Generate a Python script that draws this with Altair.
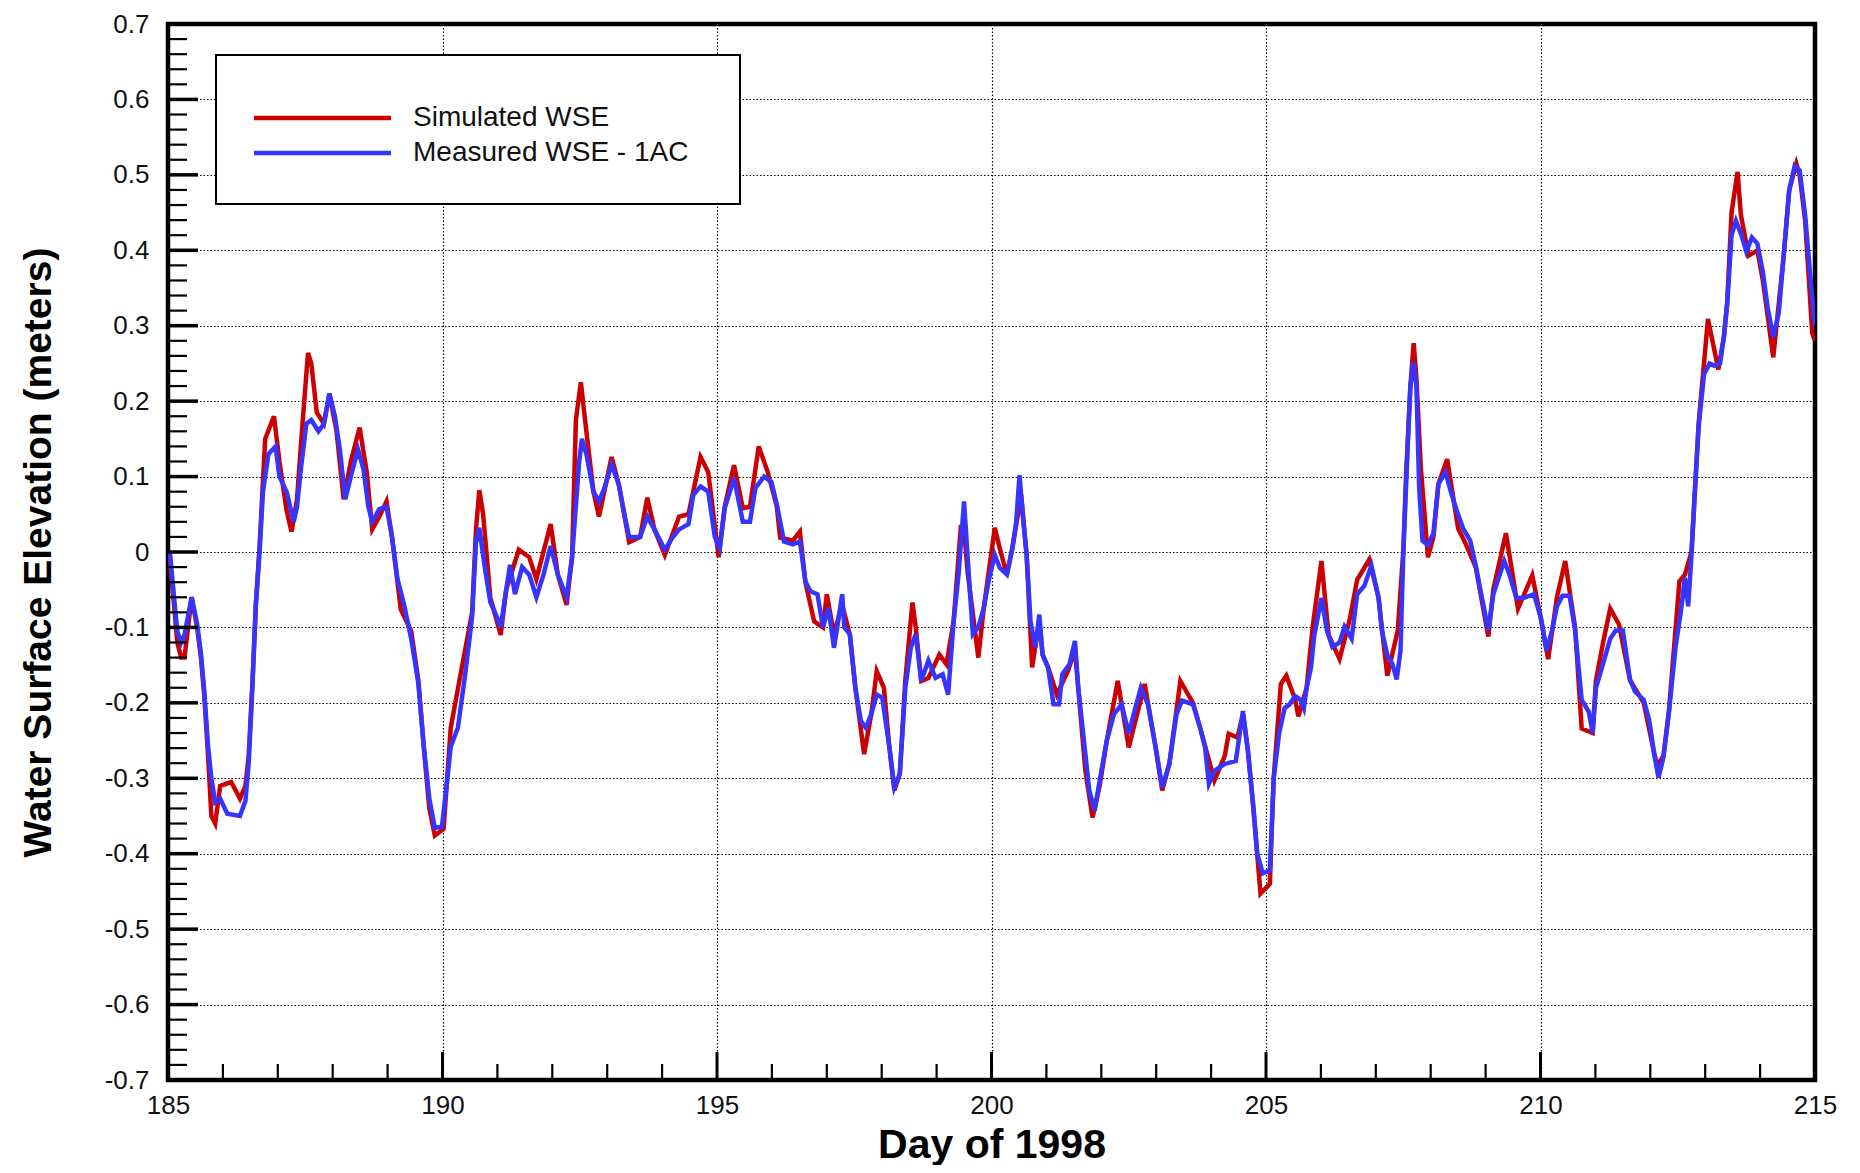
import altair as alt
import pandas as pd

# ---------------- data ----------------
MEAS_DAY = [185.00, 185.04, 185.11, 185.17, 185.24, 185.30, 185.43, 185.53, 185.60, 185.66,
            185.73, 185.79, 185.86, 185.95, 186.08, 186.31, 186.41, 186.47, 186.54, 186.60,
            186.67, 186.73, 186.83, 186.96, 187.03, 187.16, 187.29, 187.35, 187.42, 187.52,
            187.61, 187.74, 187.84, 187.94, 188.04, 188.13, 188.23, 188.33, 188.46, 188.56,
            188.65, 188.72, 188.85, 188.98, 189.08, 189.18, 189.30, 189.43, 189.56, 189.66,
            189.76, 189.86, 189.99, 190.09, 190.15, 190.28, 190.41, 190.54, 190.61, 190.67,
            190.77, 190.87, 190.99, 191.06, 191.16, 191.23, 191.32, 191.45, 191.58, 191.71,
            191.84, 191.97, 192.10, 192.26, 192.36, 192.43, 192.49, 192.54, 192.62, 192.75,
            192.85, 192.95, 193.08, 193.21, 193.34, 193.40, 193.60, 193.73, 193.86, 194.05,
            194.18, 194.31, 194.48, 194.57, 194.70, 194.84, 194.96, 195.05,
            195.14, 195.31, 195.47, 195.60, 195.70, 195.86, 195.99, 196.09, 196.22, 196.38,
            196.51, 196.61, 196.70, 196.83, 196.93, 197.03, 197.13, 197.19, 197.28, 197.32,
            197.42, 197.52, 197.62, 197.71, 197.81, 197.91, 198.01, 198.14, 198.23, 198.33,
            198.43, 198.53, 198.62, 198.72, 198.85, 198.98, 199.11, 199.21, 199.31, 199.40,
            199.50, 199.57, 199.66, 199.76, 199.86, 199.96, 200.06, 200.15, 200.28, 200.38,
            200.45, 200.51, 200.58, 200.64, 200.71, 200.80, 200.87, 200.93, 201.03, 201.13,
            201.23, 201.29, 201.42, 201.52, 201.58, 201.71, 201.78, 201.88, 201.97, 202.10,
            202.23, 202.37, 202.50, 202.59, 202.72, 202.85, 202.98, 203.11, 203.24, 203.37,
            203.47, 203.67, 203.80, 203.89, 203.96, 204.06, 204.25, 204.45, 204.58, 204.67,
            204.77, 204.84, 204.94, 205.07,
            205.14, 205.24, 205.34, 205.43, 205.53, 205.63, 205.69, 205.74, 205.82, 205.88,
            206.01, 206.11, 206.21, 206.34, 206.43, 206.56, 206.66, 206.79, 206.92, 207.05,
            207.11, 207.21, 207.30, 207.38, 207.45, 207.50, 207.55, 207.59, 207.63, 207.68,
            207.74, 207.79, 207.85, 207.95, 208.05, 208.14, 208.27, 208.37, 208.46, 208.59,
            208.72, 208.82, 208.92, 209.05, 209.14, 209.24, 209.34, 209.43, 209.56, 209.69,
            209.88, 210.01, 210.11, 210.21, 210.30, 210.40, 210.53, 210.63, 210.75, 210.88,
            210.95, 211.01, 211.14, 211.27, 211.37, 211.50, 211.63, 211.72, 211.88, 211.98,
            212.08, 212.15, 212.24, 212.34, 212.46, 212.56, 212.63, 212.69, 212.75, 212.82,
            212.88, 212.98, 213.08, 213.17, 213.27, 213.34, 213.40, 213.48, 213.56, 213.66,
            213.75, 213.85, 213.95, 214.05, 214.14, 214.24, 214.34, 214.43, 214.53, 214.63,
            214.72, 214.82, 214.92, 214.98, 215.00]
MEAS_WSE = [0.000, -0.004, -0.060, -0.105, -0.120, -0.110, -0.060, -0.095, -0.135, -0.184,
            -0.258, -0.300, -0.332, -0.327, -0.347, -0.350, -0.330, -0.280, -0.174, -0.070,
            0.003, 0.080, 0.130, 0.140, 0.100, 0.080, 0.040, 0.060, 0.110, 0.170,
            0.175, 0.160, 0.170, 0.210, 0.180, 0.136, 0.070, 0.100, 0.136, 0.110,
            0.060, 0.040, 0.057, 0.060, 0.020, -0.036, -0.070, -0.115, -0.174, -0.258,
            -0.327, -0.366, -0.364, -0.300, -0.258, -0.233, -0.164, -0.086, 0.013, 0.032,
            -0.020, -0.066, -0.086, -0.100, -0.050, -0.017, -0.056, -0.020, -0.030, -0.060,
            -0.030, 0.008, -0.030, -0.060, -0.007, 0.062, 0.120, 0.150, 0.130, 0.080,
            0.067, 0.085, 0.116, 0.090, 0.040, 0.020, 0.020, 0.047, 0.030, 0.003,
            0.018, 0.030, 0.037, 0.076, 0.087, 0.080, 0.020, 0.005,
            0.058, 0.098, 0.040, 0.040, 0.085, 0.100, 0.093, 0.063, 0.014, 0.010,
            0.014, -0.039, -0.052, -0.056, -0.100, -0.074, -0.127, -0.100, -0.056, -0.100,
            -0.109, -0.180, -0.224, -0.233, -0.215, -0.189, -0.193, -0.259, -0.312, -0.294,
            -0.180, -0.127, -0.109, -0.171, -0.144, -0.167, -0.162, -0.189, -0.092, -0.030,
            0.067, -0.012, -0.109, -0.100, -0.074, -0.034, -0.004, -0.021, -0.030, 0.005,
            0.040, 0.102, 0.040, -0.004, -0.092, -0.127, -0.083, -0.136, -0.153, -0.202,
            -0.202, -0.162, -0.149, -0.118, -0.180, -0.268, -0.316, -0.343, -0.303, -0.250,
            -0.215, -0.202, -0.241, -0.215, -0.180, -0.202, -0.255, -0.312, -0.281, -0.215,
            -0.197, -0.202, -0.233, -0.259, -0.307, -0.290, -0.281, -0.277, -0.211, -0.263,
            -0.338, -0.400, -0.426, -0.422,
            -0.300, -0.240, -0.207, -0.202, -0.191, -0.196, -0.207, -0.180, -0.153, -0.110,
            -0.061, -0.104, -0.126, -0.120, -0.099, -0.115, -0.056, -0.045, -0.018, -0.061,
            -0.104, -0.137, -0.148, -0.169, -0.131, -0.004, 0.085, 0.155, 0.220, 0.252,
            0.220, 0.085, 0.015, 0.009, 0.025, 0.090, 0.106, 0.079, 0.058, 0.031,
            0.015, -0.018, -0.056, -0.104, -0.056, -0.034, -0.012, -0.029, -0.061, -0.061,
            -0.056, -0.088, -0.131, -0.104, -0.072, -0.058, -0.058, -0.104, -0.196, -0.212,
            -0.240, -0.180, -0.148, -0.115, -0.104, -0.104, -0.169, -0.185, -0.196, -0.223,
            -0.272, -0.299, -0.272, -0.212, -0.126, -0.077, -0.034, -0.072, -0.004, 0.090,
            0.166, 0.236, 0.250, 0.247, 0.250, 0.285, 0.328, 0.420, 0.439, 0.420,
            0.398, 0.417, 0.409, 0.371, 0.323, 0.285, 0.317, 0.393, 0.479, 0.512,
            0.506, 0.447, 0.361, 0.312, 0.300]

SIM_DAY = [185.00, 185.04, 185.11, 185.17, 185.24, 185.30, 185.43, 185.53, 185.60, 185.66,
           185.73, 185.79, 185.86, 185.95, 186.15, 186.31, 186.41, 186.47, 186.54, 186.60,
           186.67, 186.77, 186.93, 187.03, 187.16, 187.25, 187.35, 187.45, 187.55, 187.61,
           187.71, 187.84, 187.94, 188.07, 188.20, 188.33, 188.49, 188.62, 188.72, 188.85,
           188.98, 189.08, 189.24, 189.43, 189.56, 189.66, 189.76, 189.86, 190.02, 190.15,
           190.35, 190.54, 190.61, 190.67, 190.74, 190.87, 191.06, 191.16, 191.39, 191.58,
           191.71, 191.97, 192.10, 192.26, 192.36, 192.43, 192.52, 192.62, 192.75, 192.85,
           193.08, 193.21, 193.40, 193.60, 193.73, 193.86, 194.05, 194.31, 194.48, 194.70,
           194.84, 195.03,
           195.14, 195.31, 195.47, 195.60, 195.76, 195.92, 196.09, 196.15, 196.38, 196.51,
           196.61, 196.77, 196.93, 197.00, 197.13, 197.28, 197.42, 197.52, 197.68, 197.81,
           197.91, 198.04, 198.14, 198.23, 198.33, 198.43, 198.56, 198.62, 198.72, 198.85,
           199.05, 199.18, 199.31, 199.44, 199.50, 199.57, 199.76, 199.86, 200.06, 200.15,
           200.28, 200.38, 200.54, 200.64, 200.74, 200.87, 200.93, 201.03, 201.19, 201.39,
           201.52, 201.71, 201.84, 201.97, 202.10, 202.30, 202.50, 202.79, 202.98, 203.11,
           203.24, 203.44, 203.67, 203.80, 204.06, 204.25, 204.32, 204.48, 204.58, 204.67,
           204.77, 204.90, 205.07,
           205.14, 205.27, 205.37, 205.53, 205.59, 205.74, 205.85, 206.01, 206.14, 206.34,
           206.53, 206.66, 206.88, 207.05, 207.14, 207.21, 207.40, 207.50, 207.55, 207.63,
           207.69, 207.74, 207.82, 207.95, 208.05, 208.14, 208.30, 208.50, 208.63, 208.82,
           208.92, 209.05, 209.14, 209.37, 209.59, 209.85, 210.01, 210.14, 210.30, 210.45,
           210.63, 210.75, 210.95, 211.01, 211.14, 211.27, 211.43, 211.63, 211.88, 212.08,
           212.14, 212.24, 212.34, 212.53, 212.63, 212.75, 212.88, 213.05, 213.24, 213.34,
           213.40, 213.48, 213.59, 213.65, 213.79, 213.95, 214.05, 214.24, 214.43, 214.53,
           214.66, 214.72, 214.82, 214.95, 215.00]
SIM_WSE = [0.000, -0.017, -0.070, -0.120, -0.140, -0.140, -0.060, -0.100, -0.140, -0.190,
           -0.270, -0.350, -0.360, -0.310, -0.305, -0.327, -0.310, -0.270, -0.170, -0.070,
           0.010, 0.150, 0.180, 0.120, 0.055, 0.027, 0.070, 0.170, 0.264, 0.250,
           0.185, 0.170, 0.210, 0.160, 0.070, 0.120, 0.165, 0.106, 0.030, 0.047,
           0.067, 0.020, -0.076, -0.105, -0.170, -0.260, -0.340, -0.376, -0.367, -0.233,
           -0.154, -0.080, 0.030, 0.082, 0.050, -0.060, -0.110, -0.050, 0.003, -0.007,
           -0.036, 0.037, -0.030, -0.070, -0.007, 0.175, 0.225, 0.160, 0.080, 0.047,
           0.126, 0.090, 0.013, 0.020, 0.072, 0.030, -0.004, 0.047, 0.050, 0.126,
           0.106, -0.007,
           0.060, 0.115, 0.058, 0.060, 0.140, 0.107, 0.060, 0.019, 0.015, 0.027,
           -0.040, -0.092, -0.100, -0.056, -0.109, -0.070, -0.110, -0.180, -0.268, -0.215,
           -0.158, -0.180, -0.259, -0.316, -0.294, -0.170, -0.067, -0.100, -0.171, -0.167,
           -0.136, -0.149, -0.092, 0.032, 0.030, -0.030, -0.140, -0.074, 0.032, 0.005,
           -0.030, 0.005, 0.076, -0.004, -0.153, -0.090, -0.136, -0.153, -0.189, -0.158,
           -0.130, -0.290, -0.352, -0.310, -0.250, -0.171, -0.259, -0.175, -0.255, -0.316,
           -0.280, -0.171, -0.200, -0.233, -0.303, -0.270, -0.241, -0.246, -0.215, -0.263,
           -0.340, -0.453, -0.440,
           -0.300, -0.175, -0.164, -0.195, -0.218, -0.180, -0.099, -0.012, -0.110, -0.142,
           -0.088, -0.037, -0.010, -0.060, -0.120, -0.164, -0.104, 0.000, 0.100, 0.220,
           0.277, 0.230, 0.112, -0.007, 0.020, 0.090, 0.123, 0.031, 0.012, -0.020,
           -0.060, -0.112, -0.050, 0.025, -0.075, -0.031, -0.090, -0.142, -0.060, -0.012,
           -0.100, -0.234, -0.240, -0.170, -0.120, -0.075, -0.096, -0.170, -0.200, -0.270,
           -0.283, -0.270, -0.210, -0.039, -0.030, 0.000, 0.170, 0.309, 0.242, 0.285,
           0.330, 0.450, 0.504, 0.447, 0.393, 0.400, 0.360, 0.258, 0.393, 0.480,
           0.515, 0.500, 0.440, 0.290, 0.280]

SERIES = ["Simulated WSE", "Measured WSE - 1AC"]
COLORS = ["#CC0000", "#3535FF"]

X_LABEL_DAYS = [185, 190, 195, 200, 205, 210, 215]
Y_LABEL_VALUES = [-0.7, -0.6, -0.5, -0.4, -0.3, -0.2, -0.1, 0, 0.1, 0.2, 0.3, 0.4, 0.5, 0.6, 0.7]
X_MAJOR_TICKS = [190, 195, 200, 205, 210]
X_MINOR_TICKS = [d for d in range(186, 215) if d % 5 != 0]
Y_MAJOR_TICKS = Y_LABEL_VALUES
Y_MINOR_TICKS = [round(-0.7 + 0.02 * i, 2) for i in range(71) if i % 5 != 0]

# ---------------- layout ----------------
W, H = 1647, 1056
FONT = "Liberation Sans"

xscale = alt.Scale(domain=[185, 215], nice=False, zero=False)
yscale = alt.Scale(domain=[-0.7, 0.7], nice=False, zero=False)
cscale = alt.Scale(domain=SERIES, range=COLORS)

sim_df = pd.DataFrame({"day": SIM_DAY, "wse": SIM_WSE, "series": SERIES[0]})
meas_df = pd.DataFrame({"day": MEAS_DAY, "wse": MEAS_WSE, "series": SERIES[1]})

x_axis = alt.Axis(values=X_LABEL_DAYS, format="d", grid=True, gridColor="#000000",
                  gridDash=[1.5, 2], gridWidth=1.2, domain=False, ticks=False, tickSize=0,
                  labelFont=FONT, labelFontSize=26, labelColor="#111111",
                  labelPadding=33, labelBaseline="alphabetic", labelFlush=False,
                  title="Day of 1998", titleFont=FONT, titleFontSize=41,
                  titleFontWeight="bold", titleColor="#000000",
                  titleX=W / 2, titleY=77, titleAlign="center", titleBaseline="alphabetic")
y_axis = alt.Axis(values=Y_LABEL_VALUES, grid=True, gridColor="#000000",
                  gridDash=[1.5, 2], gridWidth=1.2, domain=False, ticks=False, tickSize=0,
                  labelFont=FONT, labelFontSize=26, labelColor="#111111",
                  labelPadding=19, labelAlign="right", labelBaseline="middle", labelFlush=False,
                  labelExpr="datum.value == 0 ? '0' : (datum.value < 0 ? '-' : '') + format(abs(datum.value), '.1f')",
                  title="Water Surface Elevation (meters)", titleFont=FONT, titleFontSize=39,
                  titleFontWeight="bold", titleColor="#000000",
                  titleX=-130, titleY=H / 2, titleAngle=270, titleAlign="center",
                  titleBaseline="middle")

X = alt.X("day:Q", scale=xscale, axis=x_axis)
Y = alt.Y("wse:Q", scale=yscale, axis=y_axis)

sim_line = alt.Chart(sim_df).mark_line(strokeWidth=4.5, clip=True).encode(
    x=X, y=Y,
    color=alt.Color("series:N", scale=cscale, legend=None),
    order="day:Q",
)
meas_line = alt.Chart(meas_df).mark_line(strokeWidth=4.5, clip=True).encode(
    x=X, y=Y,
    color=alt.Color("series:N", scale=cscale, legend=None),
    order="day:Q",
)

# inward ticks
y_major = alt.Chart(pd.DataFrame({"wse": Y_MAJOR_TICKS})).mark_rule(
    color="black", strokeWidth=3.5).encode(y=Y, x=alt.value(0), x2=alt.value(30))
y_minor = alt.Chart(pd.DataFrame({"wse": Y_MINOR_TICKS})).mark_rule(
    color="black", strokeWidth=2.2).encode(y=Y, x=alt.value(0), x2=alt.value(19))
x_major = alt.Chart(pd.DataFrame({"day": X_MAJOR_TICKS})).mark_rule(
    color="black", strokeWidth=3).encode(x=X, y=alt.value(H), y2=alt.value(H - 28))
x_minor = alt.Chart(pd.DataFrame({"day": X_MINOR_TICKS})).mark_rule(
    color="black", strokeWidth=2.2).encode(x=X, y=alt.value(H), y2=alt.value(H - 16))

# legend box
leg_df = pd.DataFrame({"series": SERIES})
box = alt.Chart(pd.DataFrame({"k": [0]})).mark_rect(
    fill="white", stroke="black", strokeWidth=2).encode(
    x=alt.value(48), x2=alt.value(572), y=alt.value(31), y2=alt.value(180))
leg_red = alt.Chart(leg_df.iloc[[0]]).mark_rule(strokeWidth=4.5).encode(
    x=alt.value(86), x2=alt.value(223), y=alt.value(94),
    color=alt.Color("series:N", scale=cscale, legend=None))
leg_blue = alt.Chart(leg_df.iloc[[1]]).mark_rule(strokeWidth=4.5).encode(
    x=alt.value(86), x2=alt.value(223), y=alt.value(129),
    color=alt.Color("series:N", scale=cscale, legend=None))
leg_txt1 = alt.Chart(leg_df.iloc[[0]]).mark_text(
    align="left", baseline="middle", font=FONT, fontSize=28, color="#111111").encode(
    x=alt.value(245), y=alt.value(94), text="series:N")
leg_txt2 = alt.Chart(leg_df.iloc[[1]]).mark_text(
    align="left", baseline="middle", font=FONT, fontSize=28, color="#111111").encode(
    x=alt.value(245), y=alt.value(129), text="series:N")

chart = alt.layer(
    sim_line, meas_line, y_major, y_minor, x_major, x_minor,
    box, leg_red, leg_blue, leg_txt1, leg_txt2,
).properties(
    width=W, height=H,
    autosize=alt.AutoSizeParams(type="none"),
    padding={"left": 160, "top": 16, "right": 30, "bottom": 85},
    background="white",
).configure_view(
    stroke="black", strokeWidth=4.5,
)

chart.save("out.html", embed_options={"renderer": "svg", "actions": False})
